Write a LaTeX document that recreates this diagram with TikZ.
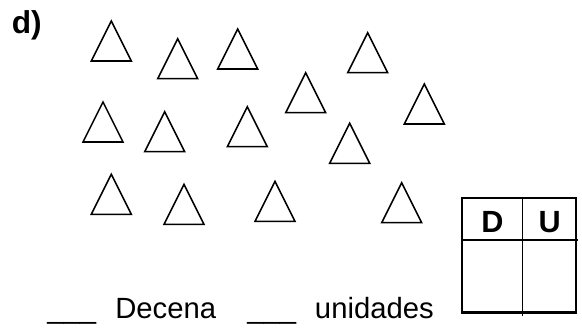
\documentclass[tikz,border=0pt]{standalone}
\usepackage{fontspec}
\setmainfont{Liberation Sans}

\begin{document}
\begin{tikzpicture}[x=0.025cm,y=-0.025cm,
        tri/.style={line width=1.1pt},
        txt/.style={inner sep=0pt, anchor=base west, font=\fontsize{20.8}{25}\selectfont},
        head/.style={inner sep=0pt, anchor=base, font=\fontsize{21.8}{25}\selectfont\bfseries}]

        \useasboundingbox (0,0) rectangle (582,327);

        \node[txt, font=\fontsize{22.5}{25}\selectfont\bfseries] (item) at (11.5,34) {d)};

        % triangles, given by the lower left corner
        \foreach \x/\y in {91.3/61, 157.7/78.7, 217.7/69, 347.7/72.7,
                           83/142, 144.7/151.7, 227.3/146.7, 285.7/112.7, 404.3/124, 329.7/163.3,
                           91.3/214.3, 164/224.3, 255/221.3, 381.7/222.7}
            \draw[tri] (\x,\y) -- ++(40,0) -- ++(-20,-40) -- cycle;

        % table D | U
        \coordinate (tl) at (462,198);
        \coordinate (br) at (576,312.5);
        \draw[line width=1.5pt] (tl) rectangle (br);
        \draw[line width=1pt] (462,240) -- (577.5,240);
        \draw[line width=1pt] (522.7,198) -- (522.7,315.5);
        \node[head] (colD) at (492.5,232.3) {D};
        \node[head] (colU) at (549.8,232.3) {U};

        \node[txt] (blank1) at (47,318) {\_\_\_};
        \node[txt] (dec) at (115,318) {Decena};
        \node[txt] (blank2) at (247,318) {\_\_\_};
        \node[txt] (uni) at (314.7,318) {unidades};
    \end{tikzpicture}
\end{document}
